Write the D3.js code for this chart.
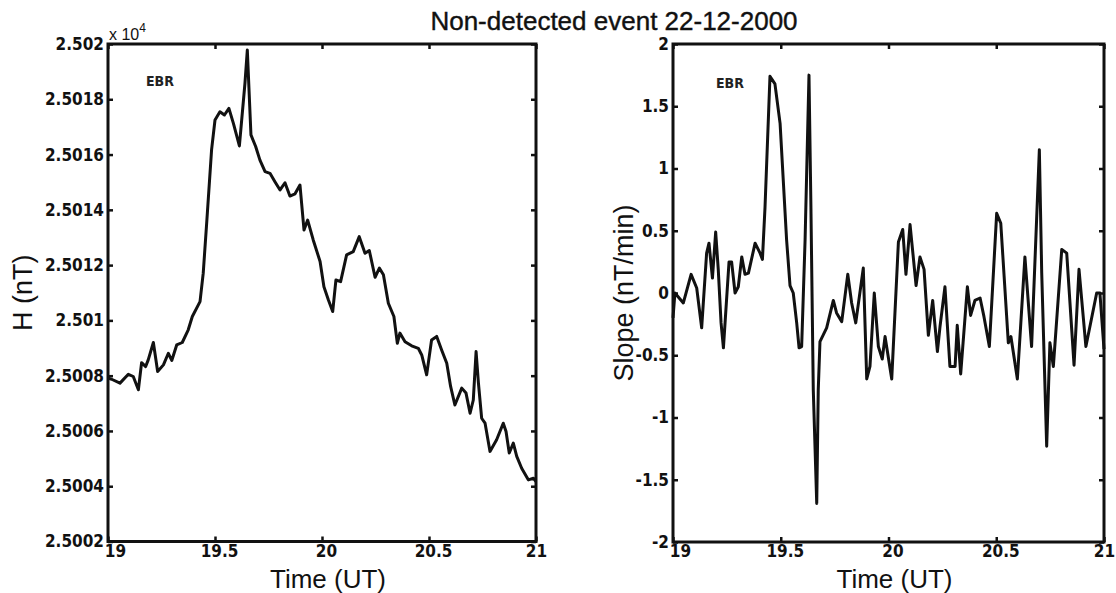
<!DOCTYPE html>
<html>
<head>
<meta charset="utf-8">
<script src="https://cdn.jsdelivr.net/npm/d3@7"></script>
<style>
    body { margin: 0; background: #fff; }
    svg { display: block; }
    .tick text { font-family: "Liberation Sans Narrow", "DejaVu Sans Condensed", sans-serif; font-weight: bold; font-size: 17px; fill: #111; }
</style>
</head>
<body>
<svg id="svg1" width="1116" height="593"></svg>
<script>
// H component (nT)
const hTime = [19.00, 19.017, 19.056, 19.095, 19.118, 19.142, 19.157, 19.176, 19.188, 19.212,
    19.232, 19.259, 19.282, 19.298, 19.321, 19.347, 19.375, 19.394, 19.430, 19.445,
    19.461, 19.484, 19.500, 19.523, 19.544, 19.565, 19.586, 19.614, 19.640, 19.651,
    19.668, 19.690, 19.710, 19.734, 19.757, 19.780, 19.804, 19.827, 19.850, 19.874,
    19.897, 19.916, 19.933, 19.959, 19.991,
    20.009, 20.030, 20.050, 20.065, 20.087, 20.115, 20.146, 20.174, 20.201, 20.221,
    20.248, 20.268, 20.287, 20.310, 20.336, 20.352, 20.364, 20.388, 20.419, 20.450,
    20.466, 20.489, 20.512, 20.536, 20.559, 20.583, 20.601, 20.621, 20.653, 20.673,
    20.692, 20.707, 20.720, 20.731, 20.746, 20.762, 20.785, 20.816, 20.847, 20.860,
    20.875, 20.894, 20.910, 20.933, 20.964, 20.988, 21.0];
const hValues = [25007.91, 25007.87, 25007.73, 25008.05, 25007.97, 25007.49, 25008.47, 25008.33, 25008.57, 25009.20,
    25008.15, 25008.39, 25008.81, 25008.55, 25009.11, 25009.20, 25009.66, 25010.14, 25010.68, 25011.71,
    25013.51, 25016.17, 25017.25, 25017.55, 25017.43, 25017.67, 25017.13, 25016.31, 25018.58, 25019.78,
    25016.71, 25016.29, 25015.80, 25015.38, 25015.32, 25015.02, 25014.72, 25014.98, 25014.50, 25014.58,
    25014.90, 25013.27, 25013.63, 25012.91, 25012.13,
    25011.22, 25010.74, 25010.32, 25011.46, 25011.40, 25012.37, 25012.49, 25013.03, 25012.43, 25012.53,
    25011.56, 25011.89, 25011.65, 25010.62, 25010.14, 25009.17, 25009.54, 25009.23, 25009.08, 25008.99,
    25008.75, 25008.03, 25009.29, 25009.42, 25008.93, 25008.45, 25007.61, 25006.94, 25007.55, 25007.37,
    25006.64, 25007.12, 25008.87, 25007.73, 25006.46, 25006.28, 25005.26, 25005.68, 25006.28, 25005.98,
    25005.20, 25005.56, 25005.08, 25004.65, 25004.23, 25004.29, 25004.17];

// slope (nT/min), right panel
const sTime = [19.0, 19.009, 19.048, 19.084, 19.110, 19.133, 19.156, 19.167, 19.183, 19.198,
    19.210, 19.223, 19.234, 19.260, 19.272, 19.288, 19.303, 19.319, 19.334, 19.350,
    19.381, 19.404, 19.415, 19.427, 19.450, 19.473, 19.497, 19.527, 19.543, 19.558,
    19.574, 19.585, 19.597, 19.613, 19.631, 19.640, 19.651, 19.667, 19.674, 19.682,
    19.713, 19.744, 19.759, 19.783, 19.811, 19.829, 19.848, 19.883, 19.899, 19.914,
    19.934, 19.953, 19.971, 19.984, 20.015, 20.046, 20.066, 20.081, 20.100, 20.128,
    20.146, 20.165, 20.185, 20.205, 20.227, 20.239, 20.262, 20.285, 20.309, 20.319,
    20.335, 20.366, 20.381, 20.401, 20.425, 20.443, 20.468, 20.502, 20.521, 20.556,
    20.568, 20.598, 20.633, 20.664, 20.700, 20.711, 20.734, 20.749, 20.765, 20.804,
    20.827, 20.861, 20.884, 20.916, 20.966, 20.981, 21.0];
const sValues = [-0.2, 0, -0.08, 0.15, 0.04, -0.28, 0.32, 0.40, 0.12, 0.49,
    0.19, -0.24, -0.44, 0.25, 0.25, 0, 0.05, 0.29, 0.15, 0.16,
    0.40, 0.32, 0.27, 0.69, 1.74, 1.68, 1.36, 0.43, 0.06, 0,
    -0.24, -0.44, -0.43, 0.43, 1.75, 0.69, -0.78, -1.69, -0.78, -0.39,
    -0.28, -0.06, -0.16, -0.23, 0.15, -0.08, -0.24, 0.20, -0.69, -0.59,
    0, -0.43, -0.53, -0.35, -0.69, 0.41, 0.51, 0.15, 0.55, 0.06,
    0.29, 0.19, -0.34, -0.06, -0.47, -0.27, 0.05, -0.59, -0.59, -0.26,
    -0.65, 0.05, -0.18, -0.06, -0.04, -0.19, -0.43, 0.64, 0.56, -0.40,
    -0.35, -0.69, 0.29, -0.43, 1.15, 0.16, -1.23, -0.40, -0.59, 0.35,
    0.32, -0.58, 0.19, -0.43, 0, 0, -0.45];

const timeTicks = [19, 19.5, 20, 20.5, 21];
const hTicks = [25002, 25004, 25006, 25008, 25010, 25012, 25014, 25016, 25018, 25020];
const hTickLabels = ['2.5002', '2.5004', '2.5006', '2.5008', '2.501', '2.5012', '2.5014', '2.5016', '2.5018', '2.502'];
const sTicks = [-2, -1.5, -1, -0.5, 0, 0.5, 1, 1.5, 2];

const svg = d3.select('#svg1');
svg.append('rect').attr('width', 1116).attr('height', 593).attr('fill', '#fff');

function drawPanel(cfg) {
    const x = d3.scaleLinear().domain([19, 21]).range([cfg.left, cfg.right]);
    const y = d3.scaleLinear().domain(cfg.yDomain).range([cfg.bottom, cfg.top]);
    const g = svg.append('g');

    const line = d3.line().x(d => x(d[0])).y(d => y(d[1]));
    g.append('path')
        .datum(d3.zip(cfg.times, cfg.values))
        .attr('d', line)
        .attr('fill', 'none')
        .attr('stroke', '#111')
        .attr('stroke-width', 3)
        .attr('stroke-linejoin', 'round');

    // inward ticks on all four sides, labels only bottom/left
    g.append('g').attr('transform', `translate(0,${cfg.bottom})`)
        .call(d3.axisBottom(x).tickValues(timeTicks).tickSizeInner(-5).tickSizeOuter(0).tickPadding(3)
            .tickFormat(d => String(d)))
        .call(a => a.select('.domain').remove())
        .call(a => a.selectAll('.tick text').attr('dx', (d, i) => i === 0 ? 7 : (i === 4 ? 0 : 4)));
    g.append('g').attr('transform', `translate(0,${cfg.top})`)
        .call(d3.axisTop(x).tickValues(timeTicks).tickSizeInner(-5).tickSizeOuter(0).tickFormat(''))
        .call(a => a.select('.domain').remove());
    g.append('g').attr('transform', `translate(${cfg.left},0)`)
        .call(d3.axisLeft(y).tickValues(cfg.yTicks).tickSizeInner(-5).tickSizeOuter(0).tickPadding(4)
            .tickFormat((d, i) => cfg.yLabels[i]))
        .call(a => a.select('.domain').remove());
    g.append('g').attr('transform', `translate(${cfg.right},0)`)
        .call(d3.axisRight(y).tickValues(cfg.yTicks).tickSizeInner(-5).tickSizeOuter(0).tickFormat(''))
        .call(a => a.select('.domain').remove());
    g.selectAll('.tick line').attr('stroke', '#111').attr('stroke-width', 2.5);

    g.append('rect')
        .attr('x', cfg.left).attr('y', cfg.top)
        .attr('width', cfg.right - cfg.left).attr('height', cfg.bottom - cfg.top)
        .attr('fill', 'none').attr('stroke', '#111').attr('stroke-width', 3);

    g.append('text')
        .attr('x', cfg.ebrX).attr('y', cfg.ebrY)
        .text('EBR')
        .style('font-family', '"Liberation Sans Narrow", "DejaVu Sans Condensed", sans-serif')
        .style('font-weight', 'bold')
        .style('font-size', '14px')
        .style('fill', '#222');

    g.append('text')
        .attr('x', (cfg.left + cfg.right) / 2 + 6).attr('y', 588)
        .attr('text-anchor', 'middle')
        .text('Time (UT)')
        .style('font-family', 'Liberation Sans, Arial, sans-serif')
        .style('font-size', '26px')
        .style('fill', '#111');

    g.append('text')
        .attr('transform', `translate(${cfg.yLabelX},${(cfg.top + cfg.bottom) / 2}) rotate(-90)`)
        .attr('text-anchor', 'middle')
        .text(cfg.yTitle)
        .style('font-family', 'Liberation Sans, Arial, sans-serif')
        .style('font-size', '27px')
        .style('fill', '#111');
    return g;
}

drawPanel({
    left: 108, right: 536, top: 44, bottom: 541.5,
    yDomain: [25002, 25020], yTicks: hTicks, yLabels: hTickLabels,
    times: hTime, values: hValues,
    ebrX: 146, ebrY: 86, yLabelX: 32, yTitle: 'H (nT)'
});

drawPanel({
    left: 673, right: 1104, top: 44, bottom: 542,
    yDomain: [-2, 2], yTicks: sTicks, yLabels: sTicks.map(d => String(d)),
    times: sTime, values: sValues,
    ebrX: 716, ebrY: 88, yLabelX: 633, yTitle: 'Slope (nT/min)'
});

// exponent note above the left axis
const expo = svg.append('text')
    .attr('x', 109).attr('y', 40)
    .style('font-family', 'Liberation Sans, Arial, sans-serif')
    .style('font-size', '16px')
    .style('fill', '#111');
expo.append('tspan').text('x 10');
expo.append('tspan').attr('dy', -8).style('font-size', '12px').text('4');

svg.append('text')
    .attr('x', 614).attr('y', 30)
    .attr('text-anchor', 'middle')
    .text('Non-detected event 22-12-2000')
    .style('font-family', 'Liberation Sans, Arial, sans-serif')
    .style('font-size', '26px')
    .style('stroke', '#111')
    .style('stroke-width', 0.4)
    .style('fill', '#111');
</script>
</body>
</html>
